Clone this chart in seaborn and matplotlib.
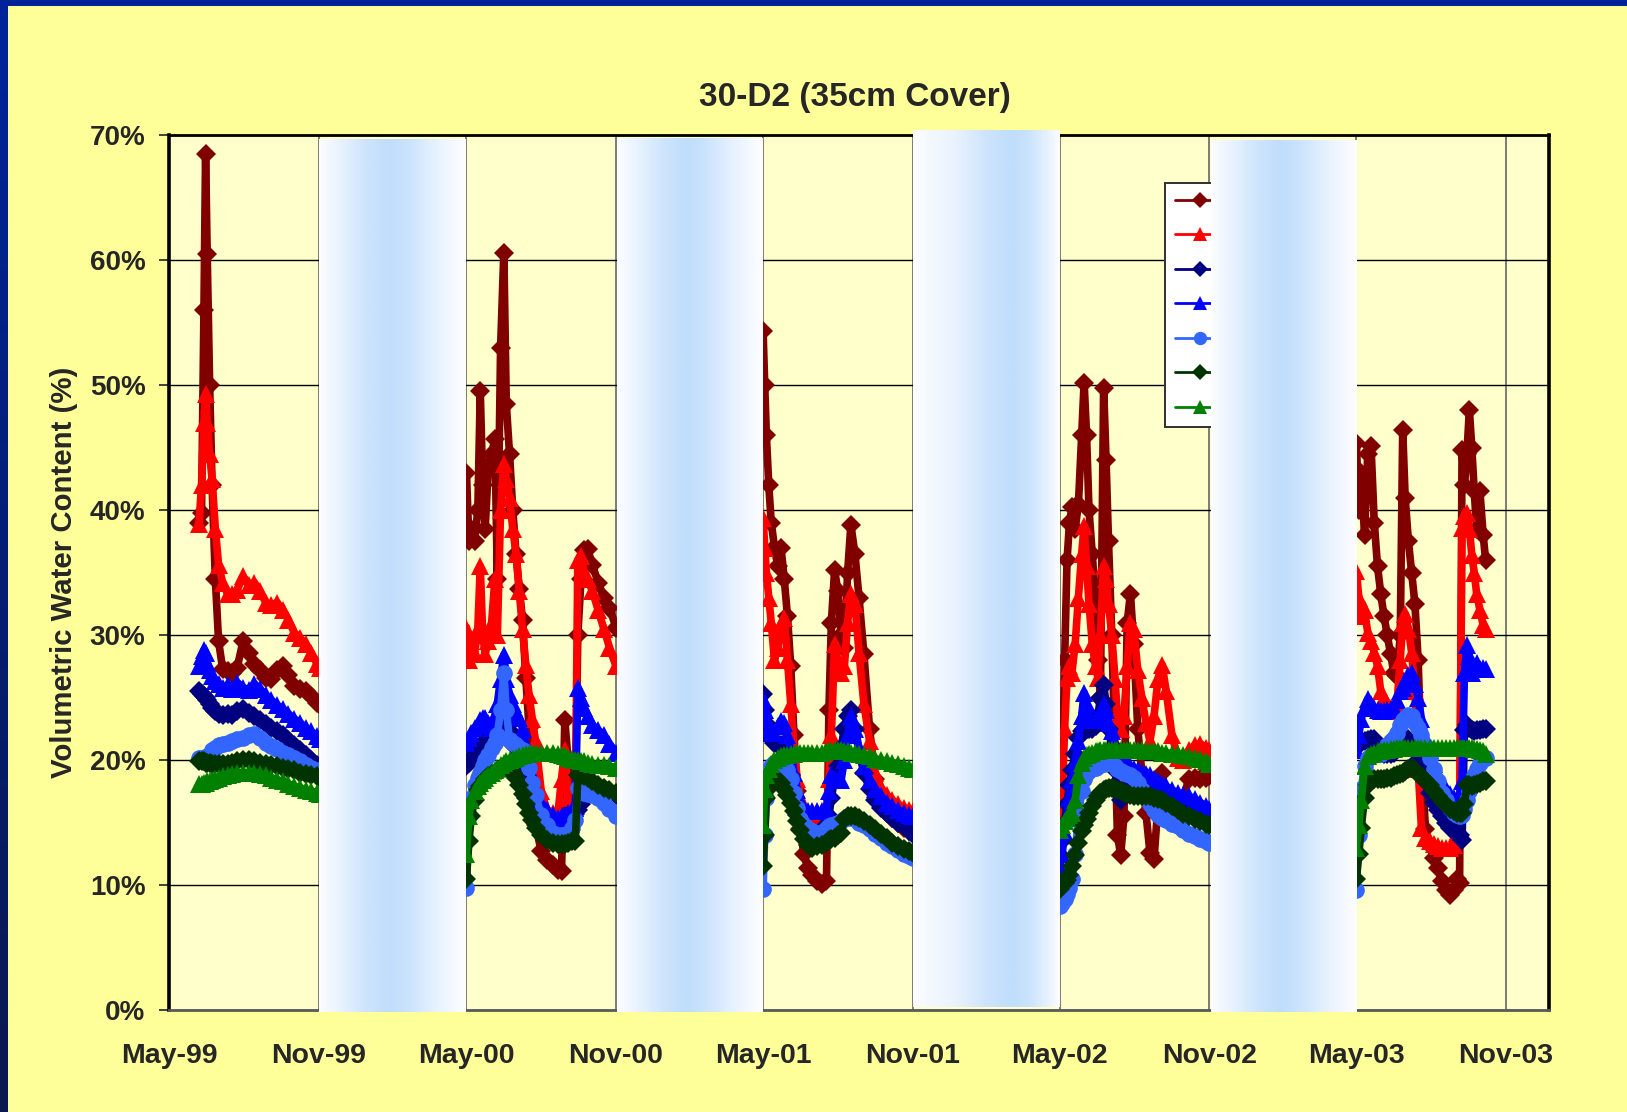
import numpy as np
import pandas as pd
import matplotlib
matplotlib.use("Agg")
import matplotlib.pyplot as plt
import matplotlib.dates as mdates
from matplotlib.ticker import FuncFormatter
import seaborn as sns

# ---------------- data ----------------
TITLE = "30-D2 (35cm Cover)"
Y_LABEL = "Volumetric Water Content (%)"
SEASON_STARTS = ["1999-05-01", "2000-05-01", "2001-05-01", "2002-05-01", "2003-05-01"]

# day offsets from the 1st of May of each monitoring season
days_1999 = [37, 40, 43, 45, 47, 50, 53, 57, 61, 66, 72, 78, 84, 91, 98, 105, 112, 119, 126, 133,
             140, 147, 154, 161, 168, 175, 182, 186]
days_2000 = [0, 3, 6, 10, 14, 17, 20, 23, 27, 31, 35, 38, 42, 46, 49, 53, 57, 61, 65, 69, 73, 77, 81,
             85, 92, 99, 106, 113, 117, 121, 125, 130, 134, 137, 141, 145, 149, 155, 162, 169, 176, 184]
days_2001 = [0, 2, 4, 7, 10, 14, 18, 22, 26, 30, 34, 38, 42, 46, 50, 55, 60, 66, 72, 78, 81, 84, 88,
             92, 96, 100, 104, 108, 113, 118, 124, 131, 138, 145, 152, 159, 166, 173, 180, 184]
days_2002 = [0, 3, 6, 9, 12, 15, 19, 23, 27, 30, 33, 36, 40, 44, 47, 50, 54, 57, 60, 64, 68, 71, 75,
             79, 83, 87, 91, 96, 101, 106, 111, 116, 121, 126, 131, 138, 145, 152, 159, 166, 173, 180, 184]
days_2003 = [0, 3, 6, 10, 14, 18, 22, 26, 30, 34, 38, 42, 46, 50, 54, 57, 60, 64, 68, 72, 76, 80, 85,
             90, 95, 100, 105, 110, 115, 120, 124, 127, 130, 133, 136, 139, 142, 145, 148, 152, 156, 159]

# series 1 (dark red, diamonds)
s1_1999 = [39.0, 39.8, 56.0, 68.5, 60.5, 50.0, 42.0, 34.5, 29.5, 27.3, 27.1, 27.0, 27.4, 29.5, 28.6,
           27.7, 27.2, 26.6, 26.5, 27.2, 27.5, 26.8, 25.9, 25.7, 25.5, 25.1, 24.6, 24.4]
s1_2000 = [43.0, 37.5, 38.5, 37.5, 40.0, 49.5, 42.0, 38.5, 43.5, 44.5, 45.7, 34.5, 53.0, 60.6, 48.5,
           44.5, 40.0, 36.5, 33.7, 31.2, 26.6, 22.6, 18.0, 14.8, 12.7, 12.0, 11.6, 11.2, 11.1, 23.2,
           20.0, 17.5, 16.2, 30.0, 34.5, 36.8, 36.9, 35.6, 34.2, 33.0, 32.2, 30.6]
s1_2001 = [54.3, 50.0, 46.0, 42.0, 39.0, 37.0, 35.5, 37.0, 34.5, 31.5, 27.5, 22.0, 17.5, 14.5, 12.5,
           11.4, 10.8, 10.3, 10.1, 10.3, 24.0, 31.0, 35.2, 33.5, 30.0, 29.0, 35.0, 38.8, 36.5, 33.0,
           28.5, 22.5, 18.5, 16.5, 15.8, 15.4, 15.0, 14.6, 14.3, 14.2]
s1_2002 = [15.5, 17.5, 28.0, 36.0, 39.0, 40.2, 38.5, 40.5, 46.0, 50.2, 46.0, 40.0, 36.5, 32.6, 28.0,
           25.0, 49.8, 44.0, 37.5, 30.0, 21.0, 14.0, 12.4, 15.5, 31.0, 33.3, 29.3, 22.5, 19.0, 15.8,
           12.6, 12.1, 16.5, 19.0, 16.0, 15.3, 15.1, 17.0, 18.5, 18.6, 18.5, 18.6, 18.7]
s1_2003 = [45.4, 40.0, 43.0, 38.0, 44.5, 45.1, 39.0, 35.5, 33.3, 31.5, 30.0, 28.5, 27.0, 26.7, 30.0,
           46.4, 41.0, 37.5, 35.0, 32.5, 28.0, 20.0, 14.5, 13.2, 12.2, 11.4, 10.3, 9.6, 9.2, 9.6,
           10.5, 10.2, 44.8, 42.0, 44.5, 48.0, 45.0, 41.5, 38.5, 41.5, 38.0, 36.0]

# series 2 (red, triangles)
s2_1999 = [38.9, 42.0, 47.0, 49.3, 47.0, 44.5, 42.5, 38.5, 35.6, 34.2, 33.3, 33.3, 33.6, 34.7, 34.0,
           34.2, 33.5, 32.6, 32.4, 32.6, 32.0, 31.2, 30.2, 29.8, 29.3, 28.6, 27.7, 27.4]
s2_2000 = [30.6, 28.0, 29.5, 28.5, 30.5, 35.5, 30.0, 28.5, 29.5, 31.0, 34.5, 30.0, 40.0, 43.7, 42.5,
           41.0, 38.5, 36.5, 33.5, 30.5, 27.6, 25.2, 23.3, 21.5, 17.5, 16.0, 15.8, 16.0, 18.5, 20.8,
           17.0, 16.0, 16.2, 36.0, 36.3, 35.0, 34.5, 33.5, 32.0, 30.5, 29.0, 27.5]
s2_2001 = [39.4, 37.0, 35.0, 33.0, 31.0, 28.0, 29.0, 30.5, 31.4, 28.0, 24.5, 21.0, 18.5, 17.0, 16.2,
           15.8, 15.6, 15.5, 15.5, 15.6, 18.5, 22.0, 29.3, 28.0, 27.0, 27.5, 31.0, 33.3, 32.5, 28.6,
           24.5, 21.5, 19.0, 17.8, 17.2, 16.8, 16.5, 16.2, 16.0, 15.9]
s2_2002 = [14.0, 17.0, 22.5, 26.6, 27.5, 27.0, 29.3, 33.0, 36.5, 38.7, 35.5, 32.5, 29.3, 27.5, 26.6,
           30.0, 35.5, 34.5, 32.5, 30.0, 26.5, 23.5, 22.5, 23.5, 27.5, 31.0, 30.5, 27.2, 25.0, 23.0,
           21.5, 23.5, 26.5, 27.6, 25.5, 22.0, 20.2, 20.0, 20.8, 21.2, 21.3, 21.0, 20.8]
s2_2003 = [35.1, 33.0, 31.5, 32.0, 30.2, 29.5, 28.6, 27.5, 25.5, 25.0, 24.5, 24.2, 23.9, 24.5, 28.0,
           31.0, 31.7, 30.5, 28.6, 25.5, 19.3, 14.6, 13.8, 13.5, 13.3, 13.1, 13.0, 13.0, 13.0, 13.2,
           14.2, 14.6, 38.6, 39.5, 39.8, 38.5, 36.4, 35.0, 33.3, 32.0, 30.8, 30.5]

# series 3 (navy, diamonds)
s3_1999 = [25.5, 25.3, 25.1, 25.0, 24.8, 24.5, 24.2, 23.9, 23.7, 23.6, 23.7, 23.6, 23.9, 24.1, 23.8,
           23.5, 23.2, 22.9, 22.6, 22.3, 22.0, 21.6, 21.2, 20.8, 20.4, 20.0, 19.6, 19.4]
s3_2000 = [19.5, 19.8, 20.2, 20.5, 20.8, 21.0, 21.2, 21.5, 21.8, 22.0, 22.3, 22.6, 23.0, 23.3, 23.0,
           22.3, 21.2, 20.0, 18.8, 17.8, 17.0, 16.4, 15.9, 15.5, 15.1, 14.8, 14.7, 14.8, 15.0, 15.3,
           15.5, 15.6, 15.7, 16.0, 16.5, 17.0, 17.5, 17.8, 17.7, 17.5, 17.4, 17.2]
s3_2001 = [25.3, 24.0, 23.0, 22.4, 21.8, 21.4, 21.2, 21.2, 21.0, 20.0, 18.8, 17.0, 15.6, 15.0, 14.6,
           14.4, 14.2, 14.1, 14.3, 14.8, 15.5, 17.0, 18.5, 19.5, 21.0, 22.5, 23.5, 24.0, 22.5, 20.6,
           19.0, 17.7, 16.8, 16.2, 15.8, 15.4, 15.0, 14.7, 14.3, 14.1]
s3_2002 = [12.4, 13.5, 15.0, 16.5, 18.0, 19.2, 20.5, 21.8, 22.3, 22.5, 22.5, 22.5, 22.5, 22.7, 23.5,
           25.0, 26.0, 24.5, 22.5, 21.0, 19.2, 17.8, 16.8, 17.2, 17.8, 17.8, 17.8, 17.7, 17.6, 17.5,
           17.4, 17.2, 17.0, 16.8, 16.7, 16.6, 16.5, 16.3, 16.1, 16.0, 15.9, 15.8, 15.7]
s3_2003 = [21.4, 21.4, 21.4, 21.5, 21.6, 21.7, 21.7, 21.2, 20.6, 20.5, 20.5, 20.5, 20.6, 20.9, 21.2,
           21.4, 21.6, 21.7, 21.3, 20.8, 20.0, 19.3, 18.3, 17.4, 16.6, 16.0, 15.5, 15.0, 14.6, 14.3,
           14.1, 14.0, 13.6, 22.4, 22.8, 22.6, 22.4, 22.3, 22.4, 22.4, 22.5, 22.5]

# series 4 (blue, triangles)
s4_1999 = [27.5, 28.3, 28.8, 28.6, 27.8, 27.2, 26.7, 26.3, 26.1, 25.8, 26.0, 25.7, 26.2, 25.8, 25.6,
           26.1, 25.7, 25.2, 24.8, 24.4, 24.1, 23.7, 23.3, 23.0, 22.6, 22.3, 21.9, 21.7]
s4_2000 = [21.4, 21.8, 22.2, 22.6, 22.8, 23.2, 23.4, 23.4, 23.0, 22.6, 23.5, 24.5, 26.5, 28.4, 26.5,
           25.2, 24.5, 23.8, 23.4, 22.5, 21.2, 20.0, 18.8, 17.8, 16.6, 16.0, 15.6, 15.4, 15.5, 15.6,
           15.8, 16.0, 16.2, 25.8, 25.0, 24.2, 23.5, 22.8, 22.4, 22.0, 21.3, 20.6]
s4_2001 = [24.9, 24.0, 23.3, 22.6, 22.2, 22.2, 22.7, 23.1, 23.0, 22.0, 20.8, 19.0, 17.6, 16.6, 16.2,
           15.9, 15.9, 15.9, 15.9, 16.2, 17.5, 18.8, 18.5, 18.4, 18.4, 20.0, 22.0, 23.5, 22.5, 21.0,
           19.5, 18.4, 17.7, 17.1, 16.6, 16.3, 16.0, 15.8, 15.6, 15.5]
s4_2002 = [11.4, 12.5, 14.2, 15.5, 17.0, 18.5, 19.8, 21.5, 23.5, 25.4, 24.5, 23.5, 23.2, 23.2, 23.3,
           23.8, 24.5, 24.0, 23.0, 22.3, 21.2, 20.6, 20.2, 19.9, 19.7, 19.5, 19.3, 19.2, 19.0, 18.9,
           18.8, 18.5, 18.3, 18.1, 17.9, 17.6, 17.4, 17.2, 17.1, 16.9, 16.6, 16.3, 16.1]
s4_2003 = [20.8, 22.0, 23.3, 24.2, 24.9, 24.5, 24.2, 24.0, 23.9, 23.9, 24.0, 24.1, 24.2, 24.8, 25.5,
           25.8, 26.3, 26.8, 27.0, 26.1, 25.0, 23.3, 21.8, 20.8, 19.7, 18.9, 18.1, 17.7, 17.3, 17.0,
           16.8, 17.2, 18.3, 27.0, 29.2, 28.3, 27.0, 27.5, 27.8, 27.3, 27.4, 27.3]

# series 5 (light blue, circles)
s5_1999 = [20.2, 20.2, 20.1, 20.2, 20.3, 20.4, 20.8, 21.0, 21.2, 21.3, 21.4, 21.5, 21.7, 21.8, 22.0,
           22.1, 21.8, 21.4, 21.1, 20.9, 20.6, 20.4, 20.2, 19.9, 19.6, 19.4, 19.2, 19.1]
s5_2000 = [9.8, 15.5, 17.0, 18.0, 18.6, 19.0, 19.5, 20.0, 20.4, 21.0, 21.4, 22.0, 24.0, 27.0, 24.0,
           21.6, 21.4, 21.2, 21.0, 20.8, 20.2, 19.4, 18.2, 17.2, 15.6, 14.8, 14.2, 14.0, 14.0, 14.0,
           14.2, 14.6, 15.2, 17.8, 17.6, 17.4, 17.3, 17.2, 17.0, 16.6, 16.1, 15.5]
s5_2001 = [9.7, 14.0, 17.0, 18.5, 19.5, 19.8, 19.9, 19.9, 19.7, 19.2, 18.5, 17.4, 16.2, 15.3, 14.8,
           14.5, 14.3, 14.2, 14.2, 14.5, 14.7, 14.8, 14.9, 15.0, 15.1, 15.3, 15.4, 15.5, 15.3, 15.0,
           14.8, 14.5, 14.1, 13.8, 13.4, 13.1, 12.8, 12.5, 12.3, 12.2]
s5_2002 = [8.3, 8.6, 8.9, 9.3, 9.8, 10.5, 12.5, 15.5, 17.5, 18.5, 19.0, 19.2, 19.3, 19.4, 19.5,
           19.6, 19.7, 19.8, 19.8, 19.7, 19.5, 19.3, 19.1, 19.0, 18.9, 18.8, 18.6, 18.2, 17.6, 17.0,
           16.5, 16.0, 15.6, 15.4, 15.2, 14.9, 14.7, 14.4, 14.1, 13.9, 13.7, 13.5, 13.4]
s5_2003 = [9.6, 14.0, 17.7, 19.5, 20.2, 20.3, 20.4, 20.5, 20.5, 20.8, 21.2, 21.5, 21.8, 22.2, 22.8,
           23.2, 23.4, 23.6, 23.5, 23.0, 22.6, 22.0, 21.2, 20.2, 19.3, 18.3, 17.4, 16.8, 16.2, 15.8,
           15.6, 15.5, 15.6, 16.1, 16.8, 17.5, 18.2, 18.8, 19.3, 19.8, 20.1, 20.2]

# series 6 (dark green, diamonds)
s6_1999 = [19.9, 19.9, 19.9, 19.8, 19.8, 19.8, 19.7, 19.7, 19.7, 19.7, 19.7, 19.8, 19.9, 20.0, 20.0,
           19.9, 19.8, 19.7, 19.6, 19.5, 19.4, 19.3, 19.2, 19.0, 18.9, 18.8, 18.7, 18.6]
s6_2000 = [10.5, 13.5, 15.5, 16.8, 17.6, 17.9, 18.2, 18.5, 18.7, 18.9, 19.0, 19.1, 19.2, 19.4, 19.4,
           19.3, 19.0, 18.6, 18.0, 17.3, 16.5, 15.8, 15.2, 14.6, 14.0, 13.6, 13.4, 13.3, 13.3, 13.3,
           13.4, 13.5, 13.5, 18.8, 18.8, 18.7, 18.6, 18.3, 18.0, 17.8, 17.6, 17.4]
s6_2001 = [11.5, 14.0, 17.0, 17.8, 18.1, 18.3, 18.4, 18.2, 17.7, 17.2, 16.6, 15.9, 15.1, 14.4, 13.7,
           13.2, 13.0, 13.1, 13.2, 13.4, 13.6, 13.7, 13.8, 14.0, 14.2, 15.3, 15.5, 15.5, 15.5, 15.4,
           15.1, 14.8, 14.5, 14.1, 13.8, 13.4, 13.1, 12.9, 12.7, 12.6]
s6_2002 = [9.7, 10.0, 10.2, 10.4, 10.8, 11.5, 12.4, 13.4, 14.3, 14.8, 15.3, 15.8, 16.3, 16.8, 17.1,
           17.4, 17.6, 17.7, 17.8, 17.8, 17.7, 17.6, 17.5, 17.4, 17.3, 17.2, 17.1, 17.1, 17.1, 17.1,
           17.1, 17.0, 16.9, 16.8, 16.6, 16.3, 16.0, 15.7, 15.5, 15.3, 15.1, 14.9, 14.8]
s6_2003 = [10.5, 12.5, 14.6, 17.0, 18.0, 18.4, 18.5, 18.5, 18.5, 18.5, 18.6, 18.6, 18.7, 18.8, 18.9,
           19.0, 19.1, 19.3, 19.4, 19.2, 18.9, 18.7, 18.4, 18.0, 17.5, 17.1, 16.7, 16.4, 16.1, 15.9,
           15.8, 15.8, 15.8, 16.5, 18.0, 18.0, 17.9, 18.0, 18.1, 18.2, 18.3, 18.3]

# series 7 (green, triangles)
s7_1999 = [18.1, 18.1, 18.2, 18.2, 18.3, 18.3, 18.4, 18.5, 18.6, 18.7, 18.8, 18.9, 19.0, 19.0, 19.0,
           19.0, 18.9, 18.8, 18.6, 18.4, 18.3, 18.1, 17.9, 17.8, 17.6, 17.5, 17.4, 17.3]
s7_2000 = [12.5, 15.5, 16.8, 17.5, 17.9, 18.2, 18.4, 18.6, 18.8, 19.0, 19.2, 19.4, 19.6, 19.8, 19.9,
           20.0, 20.1, 20.2, 20.3, 20.4, 20.5, 20.5, 20.6, 20.6, 20.6, 20.6, 20.6, 20.5, 20.4, 20.3,
           20.2, 20.1, 20.0, 20.0, 19.9, 19.9, 19.8, 19.7, 19.6, 19.6, 19.5, 19.4]
s7_2001 = [14.8, 17.7, 18.8, 19.3, 19.7, 20.0, 20.2, 20.3, 20.4, 20.4, 20.5, 20.5, 20.6, 20.6, 20.6,
           20.6, 20.6, 20.6, 20.6, 20.7, 20.7, 20.7, 20.8, 20.8, 20.8, 20.7, 20.7, 20.6, 20.6, 20.5,
           20.4, 20.3, 20.1, 20.0, 19.9, 19.8, 19.7, 19.5, 19.4, 19.3]
s7_2002 = [14.4, 14.8, 15.1, 15.4, 15.6, 15.8, 16.8, 18.8, 19.8, 20.2, 20.4, 20.5, 20.6, 20.7, 20.7,
           20.8, 20.8, 20.8, 20.8, 20.8, 20.8, 20.8, 20.8, 20.8, 20.8, 20.8, 20.8, 20.8, 20.8, 20.7,
           20.7, 20.7, 20.7, 20.6, 20.6, 20.5, 20.5, 20.4, 20.3, 20.2, 20.1, 19.9, 19.7]
s7_2003 = [13.0, 14.8, 16.8, 19.5, 20.3, 20.5, 20.6, 20.7, 20.7, 20.8, 20.8, 20.9, 20.9, 21.0, 21.0,
           21.0, 21.0, 21.0, 21.0, 21.0, 21.0, 21.0, 21.0, 21.0, 21.0, 21.0, 21.0, 21.0, 21.0, 21.0,
           21.0, 21.0, 21.0, 21.0, 21.0, 21.0, 21.0, 20.9, 20.9, 20.8, 20.7, 20.5]

# winter periods hidden by picture overlays (start, end)
COVER_PERIODS = [("1999-11-01", "2000-04-29"), ("2000-11-02", "2001-04-30"),
                 ("2001-11-01", "2002-04-30"), ("2002-11-03", "2003-05-01")]

X_TICKS = ["1999-05-01", "1999-11-01", "2000-05-01", "2000-11-01", "2001-05-01", "2001-11-01",
           "2002-05-01", "2002-11-01", "2003-05-01", "2003-11-01"]

# ---------------- assemble ----------------
season_days = [days_1999, days_2000, days_2001, days_2002, days_2003]
series_values = [
    [s1_1999, s1_2000, s1_2001, s1_2002, s1_2003],
    [s2_1999, s2_2000, s2_2001, s2_2002, s2_2003],
    [s3_1999, s3_2000, s3_2001, s3_2002, s3_2003],
    [s4_1999, s4_2000, s4_2001, s4_2002, s4_2003],
    [s5_1999, s5_2000, s5_2001, s5_2002, s5_2003],
    [s6_1999, s6_2000, s6_2001, s6_2002, s6_2003],
    [s7_1999, s7_2000, s7_2001, s7_2002, s7_2003],
]
colors = ["#800000", "#FF0000", "#000080", "#0000FF", "#3366FF", "#003300", "#008000"]
markers = ["D", "^", "D", "^", "o", "D", "^"]
msizes = [10.0, 13.0, 10.0, 13.0, 12.0, 10.0, 13.0]

frames = []
for k, seasons in enumerate(series_values):
    for start, days, vals in zip(SEASON_STARTS, season_days, seasons):
        d = pd.Timestamp(start) + pd.to_timedelta(days, unit="D")
        frames.append(pd.DataFrame({"date": d, "vwc": vals, "season": start, "series": k}))
df = pd.concat(frames, ignore_index=True)

# ---------------- figure ----------------
W, H = 1627, 1112
fig = plt.figure(figsize=(W / 100, H / 100), dpi=100, facecolor="#FFFF99")
sns.set_style("white")
plt.rcParams["font.family"] = ["Liberation Sans", "DejaVu Sans"]

ax = fig.add_axes([169 / W, (H - 1010) / H, 1380 / W, 875 / H])
ax.set_facecolor("#FFFFCC")

handles = []
for k in range(7):
    sub = df[df["series"] == k]
    sns.lineplot(data=sub, x="date", y="vwc", units="season", estimator=None, sort=False,
                 color=colors[k], marker=markers[k], markersize=msizes[k],
                 markeredgewidth=0, linewidth=5.5, zorder=3 + k, ax=ax, legend=False)
    handles.append(ax.lines[-1])

# picture overlays (light-blue gradient panels)
stops = [0.0, 0.15, 0.32, 0.48, 0.62, 0.8, 1.0]
cols = np.array([[252, 253, 255], [232, 242, 254], [206, 228, 252], [191, 221, 252],
                 [204, 228, 253], [232, 242, 255], [254, 254, 255]]) / 255.0
tt = np.linspace(0, 1, 400)
grad = np.stack([np.interp(tt, stops, cols[:, c]) for c in range(3)], axis=-1)[None, :, :]
stops3 = [0.0, 0.3, 0.5, 0.68, 0.8, 0.92, 1.0]
grad3 = np.stack([np.interp(tt, stops3, cols[:, c]) for c in range(3)], axis=-1)[None, :, :]
band_y = [(-0.2, 69.6), (-0.2, 69.7), (0.2, 70.3), (-0.2, 69.55)]
for i, (a, b) in enumerate(COVER_PERIODS):
    x0 = mdates.date2num(pd.Timestamp(a))
    x1 = mdates.date2num(pd.Timestamp(b))
    g = grad3 if i == 2 else grad
    ax.imshow(g, extent=[x0, x1, band_y[i][0], band_y[i][1]], aspect="auto",
              zorder=20, clip_on=False, interpolation="bilinear")

# axes styling
ax.set_xlim(pd.Timestamp("1999-05-01"), pd.Timestamp("2003-12-24"))
ax.set_ylim(0, 70)
ax.set_yticks(np.arange(0, 71, 10))
ax.yaxis.set_major_formatter(FuncFormatter(lambda v, p: f"{v:.0f}%"))
ax.set_xticks([pd.Timestamp(t) for t in X_TICKS])
ax.xaxis.set_major_formatter(mdates.DateFormatter("%b-%y"))

ax.set_axisbelow(True)
ax.grid(axis="y", color="#000000", linewidth=1.0)
ax.grid(axis="x", color="#666666", linewidth=1.2)

for side, lw, c in [("left", 2.6, "#000000"), ("top", 2.0, "#000000"),
                    ("right", 2.6, "#000000"), ("bottom", 2.0, "#5a5a5a")]:
    ax.spines[side].set_visible(True)
    ax.spines[side].set_linewidth(lw)
    ax.spines[side].set_color(c)

ax.tick_params(axis="y", direction="out", length=7, width=1.4, color="#404040", pad=10,
               labelsize=20, left=True)
ax.tick_params(axis="x", length=0, pad=24, labelsize=20.5)
for lab in ax.get_xticklabels() + ax.get_yticklabels():
    lab.set_fontweight("bold")

ax.set_xlabel("")
ax.set_ylabel(Y_LABEL, fontsize=21.2, fontweight="bold")
ax.yaxis.set_label_coords(-0.066, 0.5)
ax.set_title(TITLE, fontsize=24, fontweight="bold", pad=21, x=0.497)

leg = ax.legend(handles, [" "] * 7, loc="upper left", bbox_to_anchor=(0.7217, 0.9451),
                borderaxespad=0, frameon=True, fancybox=False, shadow=False,
                facecolor="white", edgecolor="#303030", framealpha=1, fontsize=14,
                handlelength=2.6, borderpad=0.5, labelspacing=0.87, handletextpad=0.4,
                numpoints=1, markerscale=0.8)
leg.get_frame().set_linewidth(1.4)
for h in leg.legend_handles:
    h.set_linewidth(2.0)
leg.set_zorder(15)

# slide frame: blue bar on top and left
top_bar = np.zeros((6, W, 3))
top_bar[:] = np.array([0, 34, 153]) / 255.0
fig.figimage(top_bar, xo=0, yo=H - 6, origin="upper", zorder=30)
tv = np.linspace(0, 1, H)[:, None]
left_col = (1 - tv) * np.array([0, 36, 155]) / 255.0 + tv * np.array([10, 24, 80]) / 255.0
left_bar = np.repeat(left_col[:, None, :], 8, axis=1)
fig.figimage(left_bar, xo=0, yo=0, origin="upper", zorder=30)

fig.savefig("out.png", dpi=100, facecolor=fig.get_facecolor())
